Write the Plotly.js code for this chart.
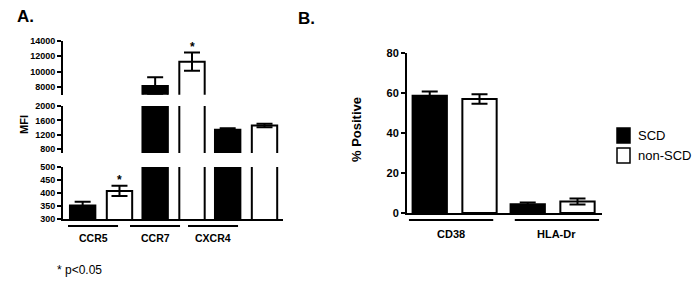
<!DOCTYPE html>
<html>
<head>
<meta charset="utf-8">
<script src="https://cdn.plot.ly/plotly-3.0.1.min.js"></script>
<style>html,body{margin:0;padding:0;background:#fff;}#chart{width:700px;height:285px;}</style>
</head>
<body>
<div id="chart"></div>
<script>
// ---- Data ----
const seriesNames = ['SCD', 'non-SCD'];
const categoriesA = ['CCR5', 'CCR7', 'CXCR4'];
const scdA = [352, 8130, 1345];
const scdAErr = [14, 1130, 40];
const nonScdA = [408, 11300, 1460];
const nonScdAErr = [20, 1190, 50];
const starsNonScdA = ['*', '*', ''];

const categoriesB = ['CD38', 'HLA-Dr'];
const scdB = [58.6, 4.4];
const scdBErr = [2.2, 0.8];
const nonScdB = [57, 5.8];
const nonScdBErr = [2.4, 1.5];

const ticksBottomA = [300, 350, 400, 450, 500];
const ticksMiddleA = [800, 1200, 1600, 2000];
const ticksTopA = [8000, 10000, 12000, 14000];
const ticksB = [0, 20, 40, 60, 80];
const footnote = '* p<0.05';

// ---- Layout helpers ----
const W = 700, H = 285;
const px = x => x / W;
const py = y => 1 - y / H;
const FONT = 'Liberation Sans, Arial, sans-serif';
const BAR_W = 0.35, OFF_SCD = -0.428, OFF_NON = 0.08;

const segA = [
  {axis: 'y',  range: [300, 500],   domain: [py(219), py(167)], ticks: ticksBottomA},
  {axis: 'y2', range: [700, 2000],  domain: [py(152.9), py(106)], ticks: ticksMiddleA},
  {axis: 'y3', range: [7000, 14000], domain: [py(94.7), py(41)], ticks: ticksTopA}
];
const idxA = categoriesA.map((c, i) => i);
const idxB = categoriesB.map((c, i) => i);

function errObj(arr) {
  return {type: 'data', array: arr, visible: true, color: '#000', thickness: 2, width: 8};
}
function barTrace(x, y, err, xa, ya, fill, name, off) {
  return {
    type: 'bar', x: x, y: y, xaxis: xa, yaxis: ya, name: name,
    width: BAR_W, offset: off, showlegend: false, hoverinfo: 'skip',
    marker: {color: fill, line: {color: '#000', width: 2}},
    error_y: errObj(err)
  };
}

const traces = [];
segA.forEach(s => {
  traces.push(barTrace(idxA, scdA, scdAErr, 'x', s.axis, '#000', seriesNames[0], OFF_SCD));
  traces.push(barTrace(idxA, nonScdA, nonScdAErr, 'x', s.axis, '#fff', seriesNames[1], OFF_NON));
});
traces.push(barTrace(idxB, scdB, scdBErr, 'x2', 'y4', '#000', seriesNames[0], OFF_SCD));
traces.push(barTrace(idxB, nonScdB, nonScdBErr, 'x2', 'y4', '#fff', seriesNames[1], OFF_NON));

function yAxis(s, anchor, tickfont) {
  return {
    domain: s.domain, range: s.range, anchor: anchor,
    tickvals: s.ticks, ticktext: s.ticks.map(String),
    ticks: 'outside', ticklen: 4, tickwidth: 2, tickcolor: '#000',
    showline: true, linewidth: 2, linecolor: '#000',
    showgrid: false, zeroline: false, fixedrange: true,
    tickfont: tickfont
  };
}
const tickFontA = {family: FONT, size: 9, color: '#000', weight: 'bold'};
const tickFontB = {family: FONT, size: 11, color: '#000', weight: 'bold'};

const annotations = [];
const shapes = [];

// Panel titles
annotations.push({text: '<b>A.</b>', x: px(15), y: py(17), xref: 'paper', yref: 'paper', xanchor: 'left', yanchor: 'middle', showarrow: false, font: {family: FONT, size: 17, color: '#000'}});
annotations.push({text: '<b>B.</b>', x: px(296), y: py(19), xref: 'paper', yref: 'paper', xanchor: 'left', yanchor: 'middle', showarrow: false, font: {family: FONT, size: 17, color: '#000'}});
// Axis titles
annotations.push({text: '<b>MFI</b>', x: px(16), y: py(125), xref: 'paper', yref: 'paper', textangle: -90, showarrow: false, font: {family: FONT, size: 11, color: '#000'}});
annotations.push({text: '<b>% Positive</b>', x: px(356), y: py(130), xref: 'paper', yref: 'paper', textangle: -90, showarrow: false, font: {family: FONT, size: 13, color: '#000'}});
// Footnote
annotations.push({text: footnote, x: px(55), y: py(270), xref: 'paper', yref: 'paper', xanchor: 'left', yanchor: 'middle', showarrow: false, font: {family: FONT, size: 12, color: '#000'}});

// Category labels and underlines, panel A (labels sit left of bars as in the source figure)
const shiftA = [-0.11, -0.255, -0.455];
categoriesA.forEach((c, i) => {
  const cx = i + shiftA[i];
  annotations.push({text: '<b>' + c + '</b>', x: cx, y: py(238), xref: 'x', yref: 'paper', yanchor: 'middle', showarrow: false, font: {family: FONT, size: 10.5, color: '#000'}});
  shapes.push({type: 'line', xref: 'x', yref: 'paper', x0: cx - 0.345, x1: cx + 0.345, y0: py(226), y1: py(226), line: {color: '#000', width: 2}});
});
// Panel B
const shiftB = [-0.035, 0.045];
categoriesB.forEach((c, i) => {
  const cx = i + shiftB[i];
  annotations.push({text: '<b>' + c + '</b>', x: cx, y: py(234), xref: 'x2', yref: 'paper', yanchor: 'middle', showarrow: false, font: {family: FONT, size: 11, color: '#000'}});
  shapes.push({type: 'line', xref: 'x2', yref: 'paper', x0: cx - 0.43, x1: cx + 0.43, y0: py(220), y1: py(220), line: {color: '#000', width: 2}});
});

// Significance stars
starsNonScdA.forEach((s, i) => {
  if (!s) return;
  const top = nonScdA[i] + nonScdAErr[i];
  const seg = segA.find(g => top >= g.range[0] && top <= g.range[1]) || segA[2];
  annotations.push({text: '<b>' + s + '</b>', x: i + OFF_NON + BAR_W / 2, y: top, xref: 'x', yref: seg.axis, yanchor: 'bottom', yshift: -3, showarrow: false, font: {family: FONT, size: 12, color: '#000'}});
});

// Legend (manual, to match the source placement)
const legendFills = ['#000', '#fff'];
seriesNames.forEach((n, i) => {
  const yTop = 128 + i * 20;
  shapes.push({type: 'rect', xref: 'paper', yref: 'paper', x0: px(617), x1: px(630), y0: py(yTop + 15), y1: py(yTop), fillcolor: legendFills[i], line: {color: '#000', width: 1.5}});
  annotations.push({text: n, x: px(636), y: py(yTop + 7.5), xref: 'paper', yref: 'paper', xanchor: 'left', yanchor: 'middle', showarrow: false, font: {family: FONT, size: 13, color: '#000'}});
});

const layout = {
  width: W, height: H,
  margin: {l: 0, r: 0, t: 0, b: 0},
  paper_bgcolor: '#fff', plot_bgcolor: 'rgba(0,0,0,0)',
  barmode: 'overlay', showlegend: false,
  xaxis: {domain: [px(63), px(283)], range: [-0.524, 2.51], anchor: 'y', showline: true, linewidth: 2, linecolor: '#000', showticklabels: false, ticks: '', showgrid: false, zeroline: false, fixedrange: true},
  yaxis: yAxis(segA[0], 'x', tickFontA),
  yaxis2: yAxis(segA[1], 'x', tickFontA),
  yaxis3: yAxis(segA[2], 'x', tickFontA),
  xaxis2: {domain: [px(407), px(602)], range: [-0.485, 1.505], anchor: 'y4', showline: true, linewidth: 2, linecolor: '#000', showticklabels: false, ticks: '', showgrid: false, zeroline: false, fixedrange: true},
  yaxis4: yAxis({range: [0, 80], domain: [py(213), py(53)], ticks: ticksB}, 'x2', tickFontB),
  annotations: annotations,
  shapes: shapes
};

Plotly.newPlot('chart', traces, layout, {staticPlot: true, displayModeBar: false});
</script>
</body>
</html>
